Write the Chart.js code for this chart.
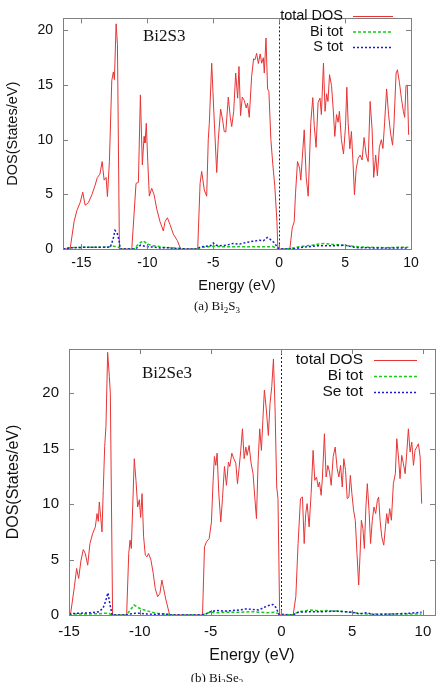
<!DOCTYPE html>
<html lang="en">

<head>
    <meta charset="UTF-8">
    <script src="https://cdn.jsdelivr.net/npm/chart.js@4.4.0/dist/chart.umd.min.js"></script>
    <title>Bi2S3 / Bi2Se3 DOS</title>
    <style>
        body { margin: 0; background: #fff; width: 440px; height: 682px; overflow: hidden; position: relative; }
        canvas { position: absolute; left: 0; }
        #c1 { top: 0; }
        #c2 { top: 330px; }
        .caption { position: absolute; left: -3px; width: 440px; text-align: center; font: 13px "Liberation Serif", serif; color: #111; }
        .caption sub { font-size: 9px; vertical-align: -3px; line-height: 0; }
    </style>
</head>

<body>
    <canvas id="c1" width="440" height="299"></canvas>
    <div class="caption" style="top:298px">(a) Bi<sub>2</sub>S<sub>3</sub></div>
    <canvas id="c2" width="440" height="339"></canvas>
    <div class="caption" style="top:670px">(b) Bi<sub>2</sub>Se<sub>3</sub></div>

    <script>
        // ---- Bi2S3 ----
        const s3TotalE = [-16.4, -15.86, -15.56, -15.35, -15.1, -14.9, -14.72, -14.47, -14.2, -13.96, -13.79, -13.6, -13.43, -13.28, -13.13, -13.03, -12.88, -12.7, -12.58, -12.5, -12.37, -12.27, -12.12,
            -11.18, -10.86, -10.68, -10.53, -10.38, -10.25, -10.18, -10.08, -9.97, -9.85, -9.67, -9.49, -9.29, -9.04, -8.79, -8.66, -8.48, -8.28, -8.03, -7.73, -7.47,
            -6.18, -6.0, -5.88, -5.68, -5.5, -5.38, -5.3, -5.12, -4.97, -4.74, -4.62, -4.44, -4.29, -4.17, -4.05, -3.86, -3.71, -3.6, -3.45, -3.3, -3.15, -3.05, -2.93, -2.8, -2.65, -2.5, -2.4, -2.27, -2.09, -1.94, -1.84, -1.71, -1.58, -1.44, -1.33, -1.2, -1.13, -1.0, -0.88, -0.78, -0.63, -0.48, -0.33, -0.17, -0.1,
            0.81, 0.99, 1.14, 1.24, 1.39, 1.55, 1.64, 1.75, 1.9, 2.05, 2.2, 2.4, 2.55, 2.66, 2.8, 2.95, 3.1, 3.2, 3.36, 3.48, 3.6, 3.7, 3.82, 3.97, 4.1, 4.22, 4.35, 4.47, 4.57, 4.72, 4.88, 5.03, 5.13, 5.23, 5.36, 5.48, 5.61, 5.71, 5.84, 5.99, 6.14, 6.29, 6.44, 6.6, 6.75, 6.9, 7.05, 7.17, 7.32, 7.45, 7.6, 7.75, 7.87, 8.0, 8.15, 8.3, 8.45, 8.6, 8.7, 8.87, 8.97, 9.12, 9.27, 9.42, 9.52, 9.62, 9.72, 9.82]
        const s3TotalD = [0, 0, 2.5, 3.5, 4.25, 5.2, 4.0, 4.25, 5.0, 5.85, 6.55, 6.85, 8.0, 6.3, 6.55, 4.8, 8.0, 15.4, 16.2, 15.5, 20.6, 18.7, 0,
            0, 6.0, 6.1, 14.1, 7.7, 10.3, 9.7, 11.5, 8.0, 4.84, 5.55, 4.97, 3.67, 2.5, 1.65, 2.5, 2.86, 2.23, 1.36, 0.78, 0,
            0, 6.0, 7.1, 5.4, 4.83, 10.0, 11.5, 17.0, 12.9, 7.0, 10.0, 12.8, 11.8, 10.75, 10.7, 13.9, 12.05, 11.2, 12.6, 16.1, 13.8, 16.7, 12.2, 13.9, 13.6, 12.9, 13.35, 12.05, 15.8, 17.4, 17.3, 17.9, 16.97, 17.85, 17.0, 17.5, 16.1, 19.3, 14.65, 14.4, 10.0, 7.7, 5.7, 2.5, 0,
            0, 1.93, 2.5, 5.1, 8.0, 7.4, 6.3, 8.3, 10.9, 6.55, 4.83, 11.6, 13.85, 11.3, 9.3, 13.4, 13.8, 12.3, 17.0, 12.6, 14.2, 13.5, 15.95, 14.95, 12.8, 10.3, 12.3, 11.6, 12.6, 10.0, 8.7, 11.2, 14.8, 11.6, 9.17, 10.75, 7.7, 4.97, 7.3, 8.3, 8.6, 8.15, 10.2, 8.6, 8.0, 13.5, 10.9, 6.55, 8.6, 6.7, 9.3, 10.0, 9.2, 11.6, 14.65, 12.3, 10.6, 9.5, 11.2, 16.1, 16.4, 15.25, 13.8, 12.6, 12.05, 14.95, 15.0, 10.45]

        const s3BiE = [-16.4, -15.9, -15.0, -14.0, -13.0, -12.6, -12.3, -12.1, -11.9, -11.0, -10.8, -10.5, -10.3, -10.0, -9.6, -9.2, -8.8, -8.0, -7.5, -7.2, -6.2, -5.8, -5.0, -4.0, -3.0, -2.0, -1.0, -0.5, -0.1, 0.3, 0.9, 1.5, 2.0, 2.5, 3.0, 3.4, 4.0, 4.6, 5.2, 6.0, 7.0, 8.0, 9.0, 9.8]
        const s3BiD = [0, 0.12, 0.15, 0.15, 0.18, 0.25, 0.22, 0.1, 0, 0, 0.3, 0.6, 0.75, 0.45, 0.3, 0.25, 0.15, 0.1, 0.05, 0, 0, 0.15, 0.25, 0.2, 0.22, 0.2, 0.2, 0.22, 0.05, 0, 0.05, 0.2, 0.3, 0.35, 0.45, 0.5, 0.42, 0.38, 0.3, 0.2, 0.15, 0.12, 0.15, 0.15]

        const s3SE = [-16.4, -15.9, -15.0, -14.0, -13.2, -12.8, -12.6, -12.45, -12.3, -12.15, -12.05, -11.0, -10.8, -10.5, -10.2, -9.8, -9.4, -9.0, -8.5, -8.0, -7.5, -7.0, -6.2, -6.0, -5.5, -5.2, -5.0, -4.8, -4.5, -4.0, -3.5, -3.0, -2.5, -2.0, -1.5, -1.2, -0.9, -0.7, -0.4, -0.15, 0.0, 0.9, 1.2, 1.8, 2.5, 3.0, 3.5, 4.2, 5.0, 5.5, 6.0, 7.0, 8.0, 9.0, 9.8]
        const s3SD = [0, 0.1, 0.15, 0.15, 0.15, 0.2, 0.9, 1.7, 1.5, 0.8, 0, 0, 0.1, 0.35, 0.25, 0.2, 0.15, 0.1, 0.12, 0.05, 0.05, 0, 0, 0.2, 0.25, 0.3, 0.55, 0.35, 0.3, 0.35, 0.5, 0.45, 0.6, 0.7, 0.8, 0.75, 1.05, 0.9, 0.6, 0.2, 0, 0, 0.05, 0.15, 0.25, 0.3, 0.3, 0.3, 0.35, 0.2, 0.12, 0.1, 0.08, 0.1, 0.1]

        // ---- Bi2Se3 ----
        const se3TotalE = [-15.0, -14.9, -14.62, -14.46, -14.32, -14.15, -13.99, -13.85, -13.68, -13.52, -13.33, -13.14, -13.02, -12.93, -12.86, -12.76, -12.67, -12.58, -12.48, -12.39, -12.27, -12.15, -12.08, -11.92,
            -10.93, -10.78, -10.69, -10.6, -10.5, -10.39, -10.27, -10.15, -10.03, -9.94, -9.84, -9.73, -9.61, -9.49, -9.38, -9.21, -9.05, -8.91, -8.74, -8.58, -8.44, -8.32, -8.15, -7.92, -7.8,
            -5.57, -5.43, -5.29, -5.1, -4.94, -4.82, -4.73, -4.63, -4.54, -4.42, -4.28, -4.16, -4.02, -3.88, -3.74, -3.64, -3.5, -3.36, -3.22, -3.1, -2.99, -2.87, -2.75, -2.63, -2.51, -2.42, -2.28, -2.14, -2.0, -1.88, -1.76, -1.64, -1.53, -1.41, -1.31, -1.2, -1.06, -0.92, -0.8, -0.68, -0.56, -0.45, -0.33, -0.24, -0.12,
            0.83, 1.02, 1.18, 1.35, 1.49, 1.61, 1.72, 1.82, 1.96, 2.1, 2.24, 2.36, 2.48, 2.6, 2.69, 2.81, 2.9, 3.04, 3.16, 3.28, 3.4, 3.52, 3.66, 3.8, 3.94, 4.06, 4.18, 4.3, 4.41, 4.53, 4.65, 4.77, 4.87, 4.98, 5.1, 5.22, 5.34, 5.46, 5.55, 5.65, 5.76, 5.86, 5.97, 6.07, 6.19, 6.3, 6.42, 6.54, 6.66, 6.78, 6.87, 6.97, 7.09, 7.23, 7.35, 7.44, 7.54, 7.65, 7.77, 7.91, 8.05, 8.15, 8.27, 8.38, 8.5, 8.62, 8.74, 8.86, 8.97, 9.09, 9.21, 9.33, 9.44, 9.56, 9.68, 9.8, 9.91]
        const se3TotalD = [0, 0, 2.55, 4.2, 3.3, 4.95, 5.9, 5.55, 4.5, 6.45, 7.35, 7.95, 9.15, 8.45, 10.2, 8.8, 7.5, 11.25, 15.2, 17.0, 23.7, 21.5, 20.0, 0,
            0, 5.55, 6.75, 6.0, 9.75, 14.1, 12.15, 9.75, 10.4, 8.8, 10.95, 7.05, 5.4, 5.25, 5.55, 4.95, 3.75, 2.4, 1.65, 1.95, 3.15, 2.4, 1.35, 0.15, 0,
            0, 6.15, 6.6, 6.9, 8.4, 12.15, 14.3, 13.5, 14.6, 10.95, 8.4, 10.5, 13.4, 11.7, 13.8, 13.4, 14.6, 14.1, 13.7, 11.85, 13.2, 14.85, 16.8, 14.1, 15.15, 14.4, 15.3, 13.7, 12.75, 10.65, 8.7, 13.95, 16.8, 14.85, 17.55, 20.3, 18.5, 16.2, 19.1, 20.6, 23.1, 18.8, 11.55, 10.5, 0,
            0, 1.65, 6.45, 10.5, 10.65, 6.45, 9.15, 10.05, 7.95, 10.95, 14.85, 12.15, 12.45, 11.55, 12.0, 10.8, 12.45, 16.35, 12.45, 13.5, 12.9, 11.7, 14.3, 15.15, 13.2, 12.45, 13.5, 11.55, 14.1, 13.05, 10.5, 10.65, 12.6, 10.95, 9.45, 8.55, 5.55, 2.7, 5.25, 8.55, 7.8, 6.0, 9.75, 11.85, 9.45, 6.45, 8.55, 9.75, 9.15, 10.35, 10.65, 8.55, 7.05, 6.3, 7.95, 9.15, 8.25, 9.6, 8.55, 11.85, 12.75, 15.9, 14.25, 12.3, 14.4, 13.65, 12.75, 14.7, 16.8, 14.7, 15.6, 13.5, 14.85, 15.15, 15.45, 14.25, 10.05]

        const se3BiE = [-15.0, -14.5, -13.5, -12.8, -12.5, -12.2, -11.95, -10.95, -10.7, -10.4, -10.1, -9.8, -9.4, -9.0, -8.5, -8.0, -7.8, -5.6, -5.3, -5.0, -4.5, -4.0, -3.0, -2.0, -1.5, -1.0, -0.5, -0.15, 0.8, 1.2, 1.6, 2.0, 2.4, 2.8, 3.2, 3.6, 4.0, 4.5, 5.0, 5.5, 6.0, 7.0, 8.0, 9.0, 9.9]
        const se3BiD = [0.05, 0.1, 0.1, 0.12, 0.15, 0.15, 0, 0, 0.4, 0.9, 0.65, 0.5, 0.35, 0.2, 0.1, 0.08, 0, 0, 0.15, 0.25, 0.2, 0.25, 0.25, 0.3, 0.25, 0.2, 0.25, 0.1, 0, 0.3, 0.35, 0.45, 0.4, 0.35, 0.4, 0.35, 0.35, 0.3, 0.25, 0.15, 0.1, 0.1, 0.1, 0.1, 0.1]

        const se3SeE = [-15.0, -14.5, -13.5, -12.9, -12.6, -12.4, -12.25, -12.1, -11.95, -10.95, -10.7, -10.3, -10.0, -9.5, -9.0, -8.5, -8.0, -7.8, -5.6, -5.3, -5.0, -4.6, -4.0, -3.5, -3.0, -2.5, -2.0, -1.6, -1.2, -0.9, -0.6, -0.4, -0.15, 0.8, 1.2, 2.0, 3.0, 3.8, 4.5, 5.2, 5.5, 6.0, 6.5, 7.0, 8.0, 9.0, 9.9]
        const se3SeD = [0.1, 0.15, 0.2, 0.3, 0.6, 1.3, 2.0, 0.9, 0, 0, 0.1, 0.15, 0.15, 0.1, 0.05, 0.1, 0.05, 0, 0, 0.1, 0.3, 0.4, 0.35, 0.4, 0.45, 0.55, 0.5, 0.45, 0.7, 0.85, 0.95, 0.7, 0, 0, 0.25, 0.3, 0.3, 0.35, 0.3, 0.2, 0.1, 0.2, 0.05, 0.05, 0.1, 0.15, 0.25]

        const xTicks = [-15, -10, -5, 0, 5, 10]
        const yTicks = [0, 5, 10, 15, 20]

        const sans = "'Liberation Sans', Arial, sans-serif"
        const serif = "'Liberation Serif', 'Times New Roman', serif"

        function pts (es, ds) {
            return es.map((e, i) => ({ x: e, y: ds[i] }))
        }

        function line (label, es, ds, color, dash, width, order) {
            return {
                label: label, data: pts(es, ds), borderColor: color, borderDash: dash,
                borderWidth: width, pointRadius: 0, tension: 0, fill: false, order: order
            }
        }

        // box, inward ticks, Fermi level, key and compound name
        const frame = {
            id: 'frame',
            afterDatasetsDraw (chart, args, o) {
                const { ctx, chartArea: a, scales: { x, y } } = chart
                ctx.save()

                const x0 = Math.round(x.getPixelForValue(0)) + 0.5
                ctx.strokeStyle = '#222'
                ctx.lineWidth = 1
                ctx.setLineDash([2, 2])
                ctx.beginPath()
                ctx.moveTo(x0, a.top)
                ctx.lineTo(x0, a.bottom)
                ctx.stroke()
                ctx.setLineDash([])

                ctx.strokeStyle = '#808080'
                ctx.strokeRect(Math.round(a.left) + 0.5, Math.round(a.top) + 0.5, Math.round(a.width), Math.round(a.height))
                ctx.beginPath()
                x.ticks.forEach(t => {
                    const p = Math.round(x.getPixelForValue(t.value)) + 0.5
                    ctx.moveTo(p, a.bottom); ctx.lineTo(p, a.bottom - 5)
                    ctx.moveTo(p, a.top); ctx.lineTo(p, a.top + 5)
                })
                y.ticks.forEach(t => {
                    const p = Math.round(y.getPixelForValue(t.value)) + 0.5
                    ctx.moveTo(a.left, p); ctx.lineTo(a.left + 5, p)
                    ctx.moveTo(a.right, p); ctx.lineTo(a.right - 5, p)
                })
                ctx.stroke()

                ctx.font = o.keySize + 'px ' + sans
                ctx.textAlign = 'right'
                ctx.textBaseline = 'middle'
                chart.data.datasets.forEach((d, i) => {
                    const ry = o.keyY + i * o.keyStep
                    ctx.fillStyle = '#111'
                    ctx.fillText(d.label, o.keyX, ry)
                    ctx.strokeStyle = d.borderColor
                    ctx.lineWidth = d.borderWidth
                    ctx.setLineDash(d.borderDash || [])
                    ctx.beginPath()
                    ctx.moveTo(o.keyX0, ry + 0.5)
                    ctx.lineTo(o.keyX1, ry + 0.5)
                    ctx.stroke()
                })
                ctx.setLineDash([])

                ctx.font = '17px ' + serif
                ctx.textAlign = 'left'
                ctx.textBaseline = 'alphabetic'
                ctx.fillStyle = '#111'
                ctx.fillText(o.name, o.nameX, o.nameY)
                ctx.restore()
            }
        }

        function makeChart (id, sets, cfg) {
            return new Chart(id, {
                type: 'line',
                data: { datasets: sets },
                plugins: [frame],
                options: {
                    responsive: false,
                    animation: false,
                    events: [],
                    layout: { padding: cfg.pad },
                    plugins: { legend: { display: false }, tooltip: { enabled: false }, frame: cfg.frame },
                    scales: {
                        x: {
                            type: 'linear', min: cfg.xmin, max: cfg.xmax,
                            grid: { display: false, drawTicks: false },
                            border: { display: false },
                            afterBuildTicks: ax => { ax.ticks = xTicks.map(v => ({ value: v })) },
                            afterFit: ax => { ax.height = cfg.xh },
                            ticks: { padding: cfg.xpad, color: '#111', maxRotation: 0, autoSkip: false, font: { family: sans, size: cfg.tick } },
                            title: { display: true, text: 'Energy (eV)', color: '#111', padding: { top: 0, bottom: 4 }, font: { family: sans, size: cfg.title } }
                        },
                        y: {
                            min: 0, max: cfg.ymax,
                            grid: { display: false, drawTicks: false },
                            border: { display: false },
                            afterBuildTicks: ax => { ax.ticks = yTicks.map(v => ({ value: v })) },
                            afterFit: ax => { ax.width = cfg.yw },
                            ticks: { padding: 10, color: '#111', font: { family: sans, size: cfg.tick } },
                            title: { display: true, text: 'DOS(States/eV)', color: '#111', padding: { top: 4, bottom: 0 }, font: { family: sans, size: cfg.title } }
                        }
                    }
                }
            })
        }

        const red = 'rgb(232,52,52)'
        const green = 'rgb(20,205,20)'
        const blue = 'rgb(25,25,215)'

        makeChart('c1', [
            line('total DOS', s3TotalE, s3TotalD, red, [], 1, 3),
            line('Bi tot', s3BiE, s3BiD, green, [3, 2], 1.5, 2),
            line('S tot', s3SE, s3SD, blue, [2, 2], 1.5, 1)
        ], {
            pad: { top: 6, right: 29, left: 0, bottom: 0 },
            xmin: -16.4, xmax: 10, ymax: 21.1, yw: 63, xh: 50, xpad: 6, tick: 14, title: 14.5,
            frame: { keySize: 14.5, keyX: 343, keyX0: 353, keyX1: 393, keyY: 16, keyStep: 15.5, name: 'Bi2S3', nameX: 143, nameY: 41 }
        })

        makeChart('c2', [
            line('total DOS', se3TotalE, se3TotalD, red, [], 1, 3),
            line('Bi tot', se3BiE, se3BiD, green, [3, 2], 1.5, 2),
            line('Se tot', se3SeE, se3SeD, blue, [2, 2], 1.5, 1)
        ], {
            pad: { top: 18, right: 5, left: 0, bottom: 0 },
            xmin: -15, xmax: 10.85, ymax: 24, yw: 69, xh: 54, xpad: 8, tick: 15, title: 16,
            frame: { keySize: 15.5, keyX: 363, keyX0: 374, keyX1: 417, keyY: 30, keyStep: 16, name: 'Bi2Se3', nameX: 142, nameY: 48 }
        })
    </script>
</body>

</html>
